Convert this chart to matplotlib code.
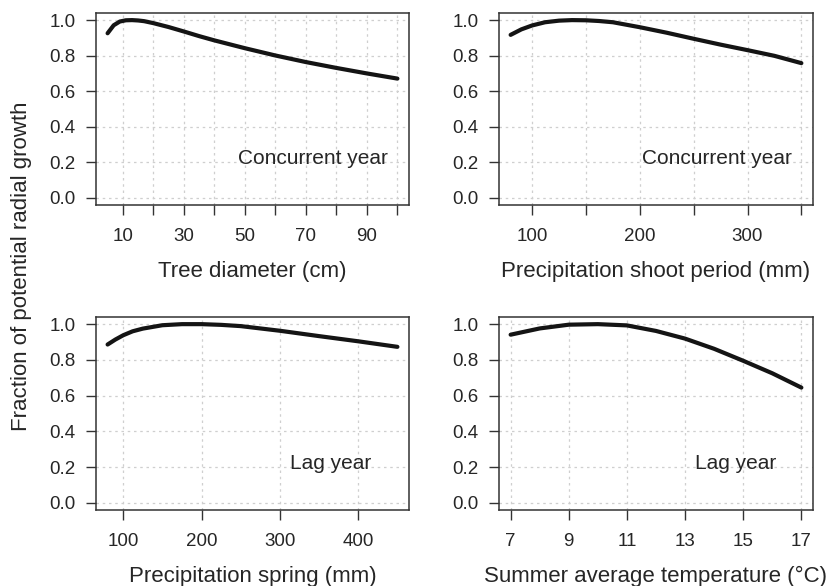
import matplotlib
matplotlib.use("Agg")
import matplotlib.pyplot as plt

plt.rcParams['font.family'] = ['Liberation Sans', 'DejaVu Sans']

# ---- data ----
diam_x = [5, 7, 9, 11, 13, 15, 17, 20, 25, 30, 35, 40, 50, 60, 70, 80, 90, 100]
diam_y = [0.926, 0.971, 0.992, 0.999, 1.0, 0.998, 0.994, 0.983, 0.961, 0.936, 0.910, 0.886,
          0.842, 0.801, 0.764, 0.731, 0.700, 0.671]

shoot_x = [80, 90, 100, 112, 125, 137, 150, 162, 175, 200, 225, 250, 275, 300, 325, 350]
shoot_y = [0.917, 0.948, 0.970, 0.988, 0.997, 1.0, 0.999, 0.995, 0.988, 0.960, 0.929, 0.895,
           0.862, 0.831, 0.799, 0.758]

spring_x = [80, 90, 100, 112, 125, 150, 175, 200, 225, 250, 300, 350, 400, 450]
spring_y = [0.886, 0.914, 0.938, 0.960, 0.975, 0.994, 1.0, 1.0, 0.996, 0.989, 0.963, 0.933,
            0.904, 0.873]

temp_x = [7, 8, 9, 10, 11, 12, 13, 14, 15, 16, 17]
temp_y = [0.941, 0.976, 0.997, 1.0, 0.993, 0.962, 0.919, 0.862, 0.795, 0.725, 0.645]

xlabels = ["Tree diameter (cm)", "Precipitation shoot period (mm)",
           "Precipitation spring (mm)", "Summer average temperature (°C)"]
annotations = ["Concurrent year", "Concurrent year", "Lag year", "Lag year"]
ann_x = [72.4, 272, 365, 14.73]
xticks_all = [list(range(10, 101, 10)), list(range(100, 351, 50)),
              [100, 200, 300, 400], list(range(7, 18, 2))]
xticks_lab = [[10, 30, 50, 70, 90], [100, 200, 300], [100, 200, 300, 400],
              list(range(7, 18, 2))]
yticks = [0.0, 0.2, 0.4, 0.6, 0.8, 1.0]
ylabel = "Fraction of potential radial growth"

series = [(diam_x, diam_y), (shoot_x, shoot_y), (spring_x, spring_y), (temp_x, temp_y)]

W, H = 832, 586
fig = plt.figure(figsize=(W / 100, H / 100), dpi=100)

boxes = [(96, 409, 13, 205), (499, 813, 13, 205),
         (96, 409, 317, 510), (499, 813, 317, 510)]

txt = '#262626'
for i, ((l, r, t, b), (xs, ys)) in enumerate(zip(boxes, series)):
    ax = fig.add_axes([l / W, 1 - b / H, (r - l) / W, (b - t) / H])
    lo, hi = min(xs), max(xs)
    ext = 0.04 * (hi - lo)
    ax.set_xlim(lo - ext, hi + ext)
    ax.set_ylim(-0.04, 1.04)
    ax.plot(xs, ys, color='#141414', lw=3.0, solid_capstyle='round',
            solid_joinstyle='round', zorder=3)
    ax.set_xticks(xticks_all[i])
    ax.set_xticklabels([str(v) if v in xticks_lab[i] else '' for v in xticks_all[i]])
    ax.set_yticks(yticks)
    ax.set_yticklabels([f"{v:.1f}" for v in yticks])
    ax.grid(True, color='#cfcfcf', linestyle=(0, (2, 3)), linewidth=0.9, zorder=0)
    ax.tick_params(axis='both', direction='out', length=7.5, width=1.0,
                   color='#333333', labelsize=13.5, labelcolor=txt, pad=7)
    ax.tick_params(axis='x', pad=9)
    for sp in ax.spines.values():
        sp.set_color('#333333')
        sp.set_linewidth(1.1)
    ax.set_xlabel(xlabels[i], fontsize=16, color=txt)
    ax.xaxis.set_label_coords(0.5, -0.345)
    ax.xaxis.label.set_va('center')
    ax.text(ann_x[i], 0.22, annotations[i], ha='center', va='center',
            fontsize=15, color=txt, zorder=4)

fig.text(22 / W, 1 - 266 / H, ylabel, rotation=90, ha='center', va='center',
         fontsize=16, color=txt)

fig.savefig("out.png", dpi=100)
